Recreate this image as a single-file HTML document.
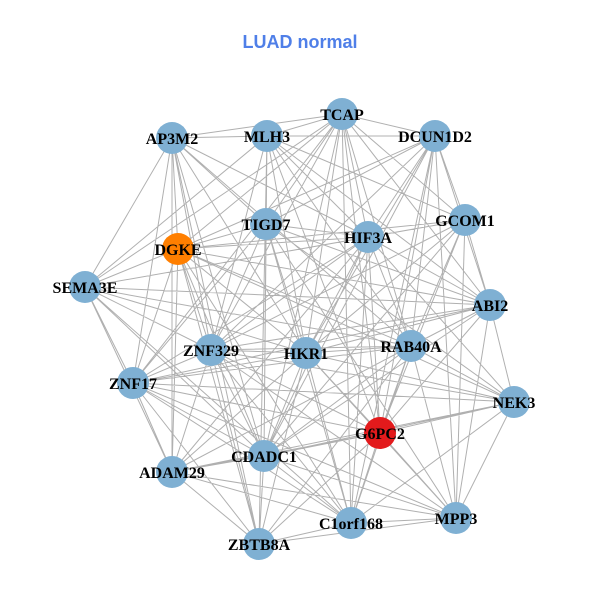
<!DOCTYPE html><html><head><style>body{margin:0;background:#fff}svg{display:block}</style></head><body>
<svg width="600" height="600" xmlns="http://www.w3.org/2000/svg">
<rect width="600" height="600" fill="#fff"/>
<text x="300" y="48" text-anchor="middle" font-family="Liberation Sans, sans-serif" font-weight="bold" font-size="18" fill="#4f7fe8">LUAD normal</text>
<path stroke="#b0b0b0" stroke-width="1" fill="none" d="
M342 114L267 136M342 114L435 136M342 114L172 138M342 114L266 224M342 114L368 237M342 114L178 249M342 114L85 287M342 114L411 346M342 114L306 353M342 114L211 350M342 114L133 383M342 114L380 433M342 114L264 456M342 114L351 523M342 114L490 305M342 114L465 220
M267 136L172 138M267 136L435 136M267 136L266 224M267 136L368 237M267 136L85 287M267 136L411 346M267 136L306 353M267 136L211 350M267 136L264 456M267 136L259 544M267 136L465 220M267 136L490 305M267 136L380 433
M172 138L178 249M172 138L85 287M172 138L211 350M172 138L133 383M172 138L264 456M172 138L172 472M172 138L306 353M172 138L368 237M172 138L411 346M172 138L259 544M172 138L266 224
M435 136L465 220M435 136L266 224M435 136L368 237M435 136L490 305M435 136L411 346M435 136L306 353M435 136L211 350M435 136L380 433M435 136L264 456M435 136L351 523M435 136L456 518M435 136L178 249
M465 220L368 237M465 220L178 249M465 220L490 305M465 220L411 346M465 220L306 353M465 220L211 350M465 220L380 433M465 220L264 456M465 220L456 518M465 220L85 287
M266 224L368 237M266 224L178 249M266 224L306 353M266 224L211 350M266 224L133 383M266 224L264 456M266 224L351 523M266 224L490 305M266 224L514 402M266 224L456 518
M368 237L178 249M368 237L85 287M368 237L490 305M368 237L411 346M368 237L306 353M368 237L211 350M368 237L133 383M368 237L514 402M368 237L264 456M368 237L172 472M368 237L380 433M368 237L351 523
M178 249L85 287M178 249L306 353M178 249L211 350M178 249L133 383M178 249L264 456M178 249L172 472M178 249L351 523M178 249L259 544M178 249L490 305M178 249L411 346M178 249L514 402
M85 287L411 346M85 287L306 353M85 287L211 350M85 287L133 383M85 287L264 456M85 287L172 472M85 287L351 523M85 287L490 305
M490 305L411 346M490 305L306 353M490 305L211 350M490 305L133 383M490 305L514 402M490 305L380 433M490 305L456 518M490 305L264 456
M411 346L306 353M411 346L211 350M411 346L514 402M411 346L380 433M411 346L264 456M411 346L172 472M411 346L456 518M411 346L351 523M411 346L259 544M411 346L133 383
M306 353L211 350M306 353L133 383M306 353L514 402M306 353L380 433M306 353L172 472M306 353L456 518M306 353L351 523M306 353L259 544M306 353L264 456
M211 350L133 383M211 350L514 402M211 350L380 433M211 350L264 456M211 350L172 472M211 350L351 523M211 350L259 544M211 350L456 518
M133 383L514 402M133 383L380 433M133 383L264 456M133 383L172 472M133 383L456 518M133 383L351 523M133 383L259 544
M514 402L380 433M514 402L264 456M514 402L456 518M514 402L351 523M514 402L172 472
M380 433L264 456M380 433L172 472M380 433L456 518M380 433L351 523M380 433L259 544
M264 456L172 472M264 456L456 518M264 456L351 523M264 456L259 544
M172 472L351 523M172 472L259 544M172 472L456 518
M456 518L351 523M456 518L259 544M351 523L259 544"/>
<g fill="#7fb0d3">
<circle cx="342" cy="114" r="16"/><circle cx="267" cy="136" r="16"/><circle cx="172" cy="138" r="16"/><circle cx="435" cy="136" r="16"/><circle cx="465" cy="220" r="16"/><circle cx="266" cy="224" r="16"/><circle cx="368" cy="237" r="16"/><circle cx="85" cy="287" r="16"/><circle cx="490" cy="305" r="16"/><circle cx="411" cy="346" r="16"/><circle cx="306" cy="353" r="16"/><circle cx="211" cy="350" r="16"/><circle cx="133" cy="383" r="16"/><circle cx="514" cy="402" r="16"/><circle cx="264" cy="456" r="16"/><circle cx="172" cy="472" r="16"/><circle cx="456" cy="518" r="16"/><circle cx="351" cy="523" r="16"/><circle cx="259" cy="544" r="16"/>
</g>
<circle cx="178" cy="249" r="16" fill="#ff7f00"/>
<circle cx="380" cy="433" r="16" fill="#e31a1c"/>
<g font-family="Liberation Serif, serif" font-weight="bold" font-size="16" text-anchor="middle" fill="#000">
<text x="342" y="120">TCAP</text><text x="267" y="142">MLH3</text><text x="172" y="144">AP3M2</text><text x="435" y="142">DCUN1D2</text><text x="465" y="226">GCOM1</text><text x="266" y="230">TIGD7</text><text x="368" y="243">HIF3A</text><text x="178" y="255">DGKE</text><text x="85" y="293">SEMA3E</text><text x="490" y="311">ABI2</text><text x="411" y="352">RAB40A</text><text x="306" y="359">HKR1</text><text x="211" y="356">ZNF329</text><text x="133" y="389">ZNF17</text><text x="514" y="408">NEK3</text><text x="380" y="439">G6PC2</text><text x="264" y="462">CDADC1</text><text x="172" y="478">ADAM29</text><text x="456" y="524">MPP3</text><text x="351" y="529">C1orf168</text><text x="259" y="550">ZBTB8A</text>
</g>
</svg></body></html>
